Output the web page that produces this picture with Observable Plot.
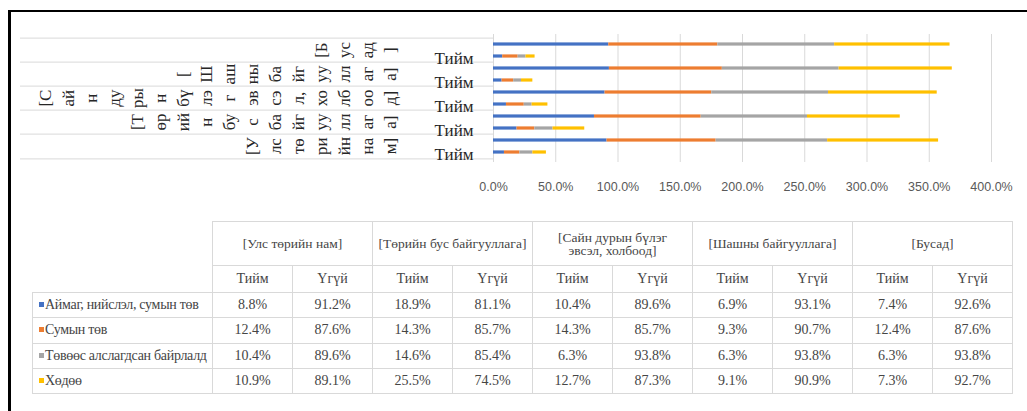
<!DOCTYPE html>
<html>
<head>
<meta charset="utf-8">
<script src="https://cdn.jsdelivr.net/npm/d3@7"></script>
<script src="https://cdn.jsdelivr.net/npm/@observablehq/plot@0.6"></script>
<style>
  body { margin: 0; background: #fff; width: 1027px; height: 411px; overflow: hidden; position: relative; }
  #frameTop { position: absolute; left: 8px; top: 10px; width: 1019px; height: 2px; background: #000; }
  #frameLeft { position: absolute; left: 8px; top: 10px; width: 3px; height: 401px; background: #000; }
  #chart { position: absolute; left: 0; top: 0; }
  #tbl { position: absolute; left: 32px; top: 221px; border-collapse: collapse; table-layout: fixed;
         font-family: "Liberation Serif", "DejaVu Serif", serif; color: #454545; }
  #tbl td { border: 1px solid #d9d9d9; padding: 0; text-align: center; font-size: 14px; white-space: nowrap; }
  #tbl td.corner { border: none; }
  #tbl td.org { font-size: 13.5px; line-height: 13px; height: 43px; white-space: normal; }
  #tbl td.ans { height: 26px; font-size: 14px; }
  #tbl td.val { height: 24.3px; }
  #tbl td.lab { text-align: left; padding-left: 6px; font-size: 14px; letter-spacing: -0.3px; }
  .key { display: inline-block; width: 5px; height: 5px; margin-right: 1px; vertical-align: 2px; }
</style>
</head>
<body>
<div id="chart"></div>
<div id="frameTop"></div>
<div id="frameLeft"></div>
<table id="tbl"></table>
<script>
// ---- data ----
const orgs = ["[Улс төрийн нам]", "[Төрийн бус байгууллага]", "[Сайн дурын бүлэг эвсэл, холбоод]", "[Шашны байгууллага]", "[Бусад]"];
const orgHeaderLines = [["[Улс төрийн нам]"], ["[Төрийн бус байгууллага]"], ["[Сайн дурын бүлэг", "эвсэл, холбоод]"], ["[Шашны байгууллага]"], ["[Бусад]"]];
const orgAxisLines = [
  ["[У", "лс", "тө", "ри", "йн", "на", "м]"],
  ["[Т", "өр", "ий", "н", "бу", "с", "ба", "йг", "уу", "лл", "аг", "а]"],
  ["[С", "ай", "н", "ду", "ры", "н", "бү", "лэ", "г", "эв", "сэ", "л,", "хо", "лб", "оо", "д]"],
  ["[", "Ш", "аш", "ны", "ба", "йг", "уу", "лл", "аг", "а]"],
  ["[Б", "ус", "ад", "]"]
];
const answers = ["Тийм", "Үгүй"];
const locations = ["Аймаг, нийслэл, сумын төв", "Сумын төв", "Төвөөс алслагдсан байрлалд", "Хөдөө"];
const colors = ["#4472C4", "#ED7D31", "#A5A5A5", "#FFC000"];
// per location, ordered org × (Тийм, Үгүй)
const aimagValues  = [8.8, 91.2, 18.9, 81.1, 10.4, 89.6, 6.9, 93.1, 7.4, 92.6];
const sumValues    = [12.4, 87.6, 14.3, 85.7, 14.3, 85.7, 9.3, 90.7, 12.4, 87.6];
const remoteValues = [10.4, 89.6, 14.6, 85.4, 6.3, 93.8, 6.3, 93.8, 6.3, 93.8];
const ruralValues  = [10.9, 89.1, 25.5, 74.5, 12.7, 87.3, 9.1, 90.9, 7.3, 92.7];
const xTicks = [0, 50, 100, 150, 200, 250, 300, 350, 400];

const seriesValues = [aimagValues, sumValues, remoteValues, ruralValues];
const data = [];
locations.forEach((loc, li) => orgs.forEach((org, oi) => answers.forEach((ans, ai) =>
  data.push({loc, org, ans, key: org + "|" + ans, value: seriesValues[li][oi * 2 + ai]}))));

const yDomain = orgs.slice().reverse().flatMap(o => [o + "|Үгүй", o + "|Тийм"]);
const yesKeys = orgs.map(o => o + "|Тийм");
const noKeys = orgs.map(o => o + "|Үгүй");

// ---- layout ----
const W = 1027, H = 205, mt = 34, mb = H - 162, ml = 493, mr = W - 991;
const band = (H - mt - mb) / yDomain.length;
const barInset = (band - 4) / 2;

const plot = Plot.plot({
  width: W, height: H,
  marginTop: mt, marginBottom: mb, marginLeft: ml, marginRight: mr,
  style: {fontFamily: "'Liberation Sans', sans-serif", fontSize: "12.5px", color: "#595959", background: "transparent", overflow: "visible"},
  x: {domain: [0, 400]},
  y: {domain: yDomain, padding: 0},
  color: {domain: locations, range: colors},
  marks: [
    Plot.gridX(xTicks, {stroke: "#d9d9d9", strokeOpacity: 1}),
    Plot.ruleY(noKeys, {y: d => d, dy: -band / 2, insetLeft: -(ml - 20), insetRight: W - mr - ml, stroke: "#d9d9d9"}),
    Plot.ruleY([yesKeys[0]], {y: d => d, dy: band / 2, insetLeft: -(ml - 20), insetRight: W - mr - ml, stroke: "#d9d9d9"}),
    Plot.barX(data, Plot.stackX({x: "value", y: "key", fill: "loc", z: "loc", order: locations, insetTop: barInset, insetBottom: barInset})),
    Plot.axisX({ticks: xTicks, tickFormat: d => d.toFixed(1) + "%", tickSize: 0, tickPadding: 20, fill: "#595959", label: null}),
    Plot.axisY({ticks: yesKeys, tickFormat: () => "Тийм", tickSize: 0, tickPadding: 20, fontSize: 17, fontFamily: "'Liberation Serif', serif", fill: "#262626", label: null, dy: 2}),
    Plot.text(orgs, {
      y: o => o + "|Тийм", text: (o, i) => orgAxisLines[i].join("\n"),
      rotate: -90, frameAnchor: "left", dx: -98, dy: -band / 2,
      lineAnchor: "bottom", textAnchor: "middle", lineHeight: 1.35,
      fontSize: 17, fontFamily: "'Liberation Serif', serif", fill: "#262626"
    })
  ]
});
document.getElementById("chart").appendChild(plot);

// ---- data table ----
const tbl = document.getElementById("tbl");
const colg = document.createElement("colgroup");
colg.innerHTML = `<col style="width:180px">` + orgs.map(() => `<col style="width:80px"><col style="width:80px">`).join("");
tbl.appendChild(colg);
const r1 = document.createElement("tr");
r1.innerHTML = `<td class="corner" rowspan="2"></td>` + orgHeaderLines.map(l => `<td class="org" colspan="2">${l.join("<br>")}</td>`).join("");
tbl.appendChild(r1);
const r2 = document.createElement("tr");
r2.innerHTML = orgs.map(() => answers.map(a => `<td class="ans">${a}</td>`).join("")).join("");
tbl.appendChild(r2);
locations.forEach((loc, li) => {
  const tr = document.createElement("tr");
  tr.innerHTML = `<td class="lab val"><span class="key" style="background:${colors[li]}"></span>${loc}</td>` +
    seriesValues[li].map(v => `<td class="val">${v.toFixed(1)}%</td>`).join("");
  tbl.appendChild(tr);
});
</script>
</body>
</html>
